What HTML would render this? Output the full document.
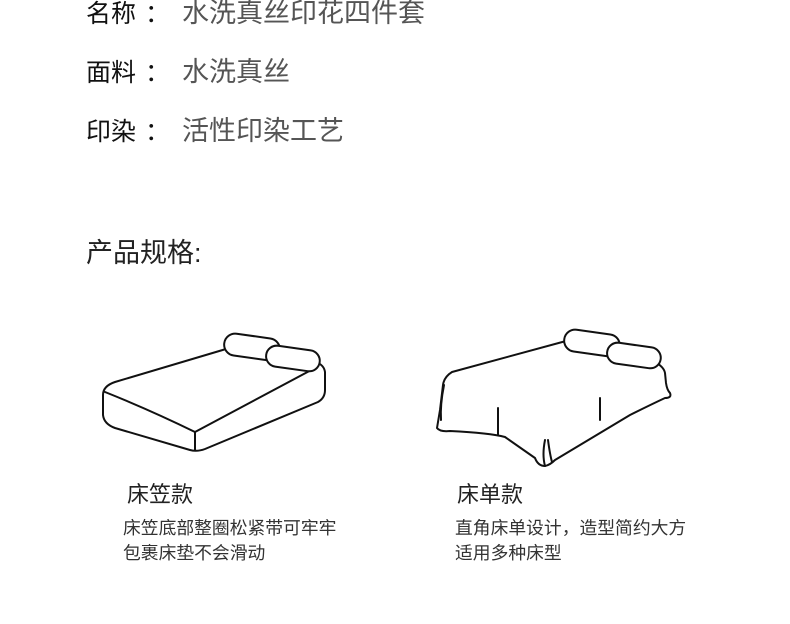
<!DOCTYPE html>
<html><head><meta charset="utf-8"><style>
body{margin:0;width:790px;height:624px;background:#fff;position:relative;overflow:hidden;font-family:"Liberation Sans","Noto Sans CJK SC",sans-serif;}
.t{position:absolute;white-space:nowrap;line-height:1;}
.l{font-size:25px;color:#111;}
.v{font-size:27px;color:#555;}
</style></head><body>
<div class="t l" style="left:86px;top:2px">名称</div><div class="t l" style="left:145px;top:2px">：</div><div class="t v" style="left:182px;top:0px">水洗真丝印花四件套</div>
<div class="t l" style="left:86px;top:61px">面料</div><div class="t l" style="left:145px;top:61px">：</div><div class="t v" style="left:182px;top:59px">水洗真丝</div>
<div class="t l" style="left:86px;top:120px">印染</div><div class="t l" style="left:145px;top:120px">：</div><div class="t v" style="left:182px;top:118px">活性印染工艺</div>
<div class="t l" style="left:86px;top:240px;color:#222;font-size:27px">产品规格:</div>
<div class="t" style="left:127px;top:484px;font-size:22px;color:#222">床笠款</div>
<div class="t" style="left:123px;top:520px;font-size:17.8px;color:#333">床笠底部整圈松紧带可牢牢</div>
<div class="t" style="left:123px;top:545px;font-size:17.8px;color:#333">包裹床垫不会滑动</div>
<div class="t" style="left:457px;top:484px;font-size:22px;color:#222">床单款</div>
<div class="t" style="left:455px;top:520px;font-size:17.8px;color:#333">直角床单设计，造型简约大方</div>
<div class="t" style="left:455px;top:545px;font-size:17.8px;color:#333">适用多种床型</div>
<svg width="790" height="624" style="position:absolute;left:0;top:0" fill="none" stroke="#111" stroke-width="2" stroke-linecap="round" stroke-linejoin="round">
<!-- bed 1 -->
<path d="M226,349 L115,382 Q103,386 103,395 L103,415 Q104,424 115,428 L190,450 Q197,452 205,449 L318,402 Q325,398 325,390 L325,372 Q324,365 316,362"/>
<path d="M105,392 Q150,410 195,432 L315,368"/>
<path d="M195,432 L195,450"/>
<rect x="224" y="336" width="56" height="22" rx="11" transform="rotate(8 252 347)" fill="#fff"/>
<rect x="266" y="348" width="54" height="21" rx="10.5" transform="rotate(8 293 358)" fill="#fff"/>
<!-- bed 2 -->
<path d="M566,341 L452,372 Q444,377 443,385 L440,410 Q438,422 437,428 Q440,432 450,431 Q490,433 505,437 L535,458 Q538,466 545,466 Q550,465 555,460 L630,415 Q650,405 665,398 Q672,398 670,393 Q667,390 666,383 L665,373 Q664,367 655,362"/>
<path d="M444,385 Q440,405 441,420"/>
<path d="M498,408 L498,435"/>
<path d="M545,440 Q542,455 545,466"/>
<path d="M548,440 Q550,455 552,462"/>
<path d="M600,398 L600,420"/>
<rect x="564" y="332" width="56" height="22" rx="11" transform="rotate(8 592 343)" fill="#fff"/>
<rect x="607" y="345" width="54" height="21" rx="10.5" transform="rotate(8 634 355)" fill="#fff"/>
</svg>
</body></html>
